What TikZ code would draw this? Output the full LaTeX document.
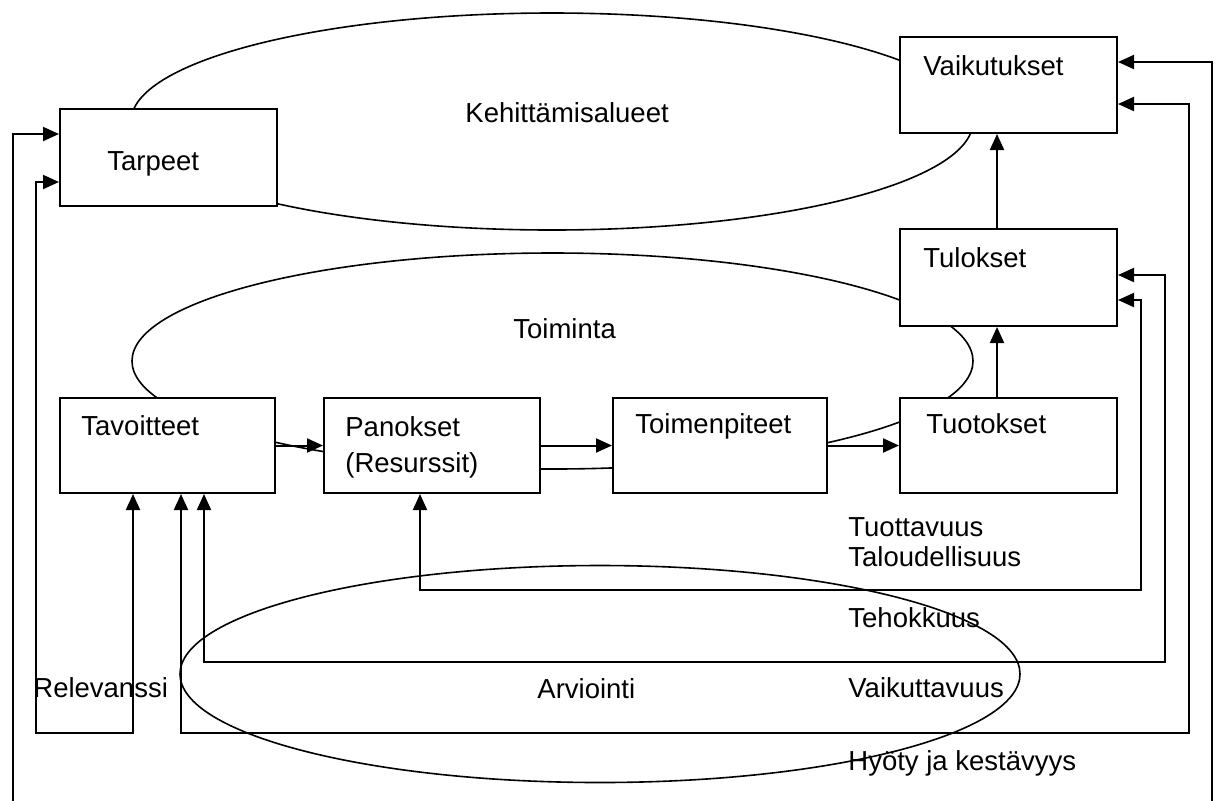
\documentclass[tikz,border=0pt]{standalone}
\usepackage{fontspec}
\setmainfont{Liberation Sans}
\usetikzlibrary{arrows.meta}
\begin{document}
\begin{tikzpicture}[x=0.5pt,y=-0.5pt,
  box/.style={draw,fill=white,line width=1pt,rectangle,inner sep=0pt,minimum height=48pt},
  ell/.style={draw,line width=0.8pt},
  conn/.style={line width=1pt},
  arr/.style={conn,-{Triangle[length=8pt,width=7pt]}},
  dbl/.style={conn,{Triangle[length=8pt,width=7pt]}-{Triangle[length=8pt,width=7pt]}},
  sarr/.style={conn,{Triangle[length=8pt,width=7pt]}-},
  txt/.style={anchor=base west,inner sep=0pt,font=\fontsize{13.75pt}{16pt}\selectfont}]
\clip (0,0) rectangle (1219,800);
\fill[white] (0,0) rectangle (1219,800);
% ellipses
\draw[ell] (552,121.5) ellipse [x radius=210.5pt, y radius=54.25pt];
\draw[ell] (552.5,361) ellipse [x radius=210.25pt, y radius=54pt];
\draw[ell] (600,674) ellipse [x radius=210pt, y radius=54.25pt];
% boxes
\node[box,minimum width=108.5pt,minimum height=48.5pt] (tarp) at (168.5,157.5) {};
\node[box,minimum width=108.5pt,minimum height=48pt] (vaik) at (1008.5,85) {};
\node[box,minimum width=108.5pt,minimum height=48.5pt] (tulo) at (1008.5,277.5) {};
\node[box,minimum width=107.5pt,minimum height=47.5pt] (tavo) at (167.5,445.5) {};
\node[box,minimum width=108pt,minimum height=47.5pt] (pano) at (432,445.5) {};
\node[box,minimum width=107pt,minimum height=47.5pt] (toim) at (720,445.5) {};
\node[box,minimum width=108.5pt,minimum height=47.5pt] (tuot) at (1008.5,445.5) {};
% main flow
\draw[arr] (tavo.east) -- (pano.west);
\draw[arr] (pano.east) -- (toim.west);
\draw[arr] (toim.east) -- (tuot.west);
\draw[arr] (997,0 |- tuot.north) -- (997,0 |- tulo.south);
\draw[arr] (997,0 |- tulo.north) -- (997,0 |- vaik.south);
% left feedback
\coordinate (lo1) at (13,810);
\draw[sarr] (tarp.west |- 0,134) -- (13,134) -- (lo1);
\draw[dbl] (tarp.west |- 0,182) -- (36,182) -- (36,733) -- (133,733) -- (133,0 |- tavo.south);
% right feedback
\coordinate (ro1) at (1212,810);
\draw[sarr] (vaik.east |- 0,62) -- (1212,62) -- (ro1);
\draw[dbl] (181,0 |- tavo.south) -- (181,733) -- (1189,733) -- (1189,104) -- (vaik.east |- 0,104);
\draw[dbl] (204,0 |- tavo.south) -- (204,662) -- (1165,662) -- (1165,275) -- (tulo.east |- 0,275);
\draw[dbl] (420,0 |- pano.south) -- (420,590) -- (1141,590) -- (1141,300) -- (tulo.east |- 0,300);
% texts
\node[txt] (tkeh) at (465,122) {Kehittämisalueet};
\node[txt] (ttarp) at (107,170) {Tarpeet};
\node[txt] (tvaik) at (923,75) {Vaikutukset};
\node[txt] (ttulo) at (923,267) {Tulokset};
\node[txt] (ttoim) at (513,338) {Toiminta};
\node[txt] (ttavo) at (81,435) {Tavoitteet};
\node[txt] (tpano) at (345,436) {Panokset};
\node[txt] (tres) at (345,472) {(Resurssit)};
\node[txt] (ttoimp) at (635,433) {Toimenpiteet};
\node[txt] (ttuot) at (926,433) {Tuotokset};
\node[txt] (ttuott) at (848,536) {Tuottavuus};
\node[txt] (ttal) at (848,566) {Taloudellisuus};
\node[txt] (tteh) at (848,627) {Tehokkuus};
\node[txt] (tvaikt) at (848,697) {Vaikuttavuus};
\node[txt] (thyo) at (848,770) {Hyöty ja kestävyys};
\node[txt] (tarv) at (537,698) {Arviointi};
\node[txt] (trel) at (33,697) {Relevanssi};
\end{tikzpicture}
\end{document}
